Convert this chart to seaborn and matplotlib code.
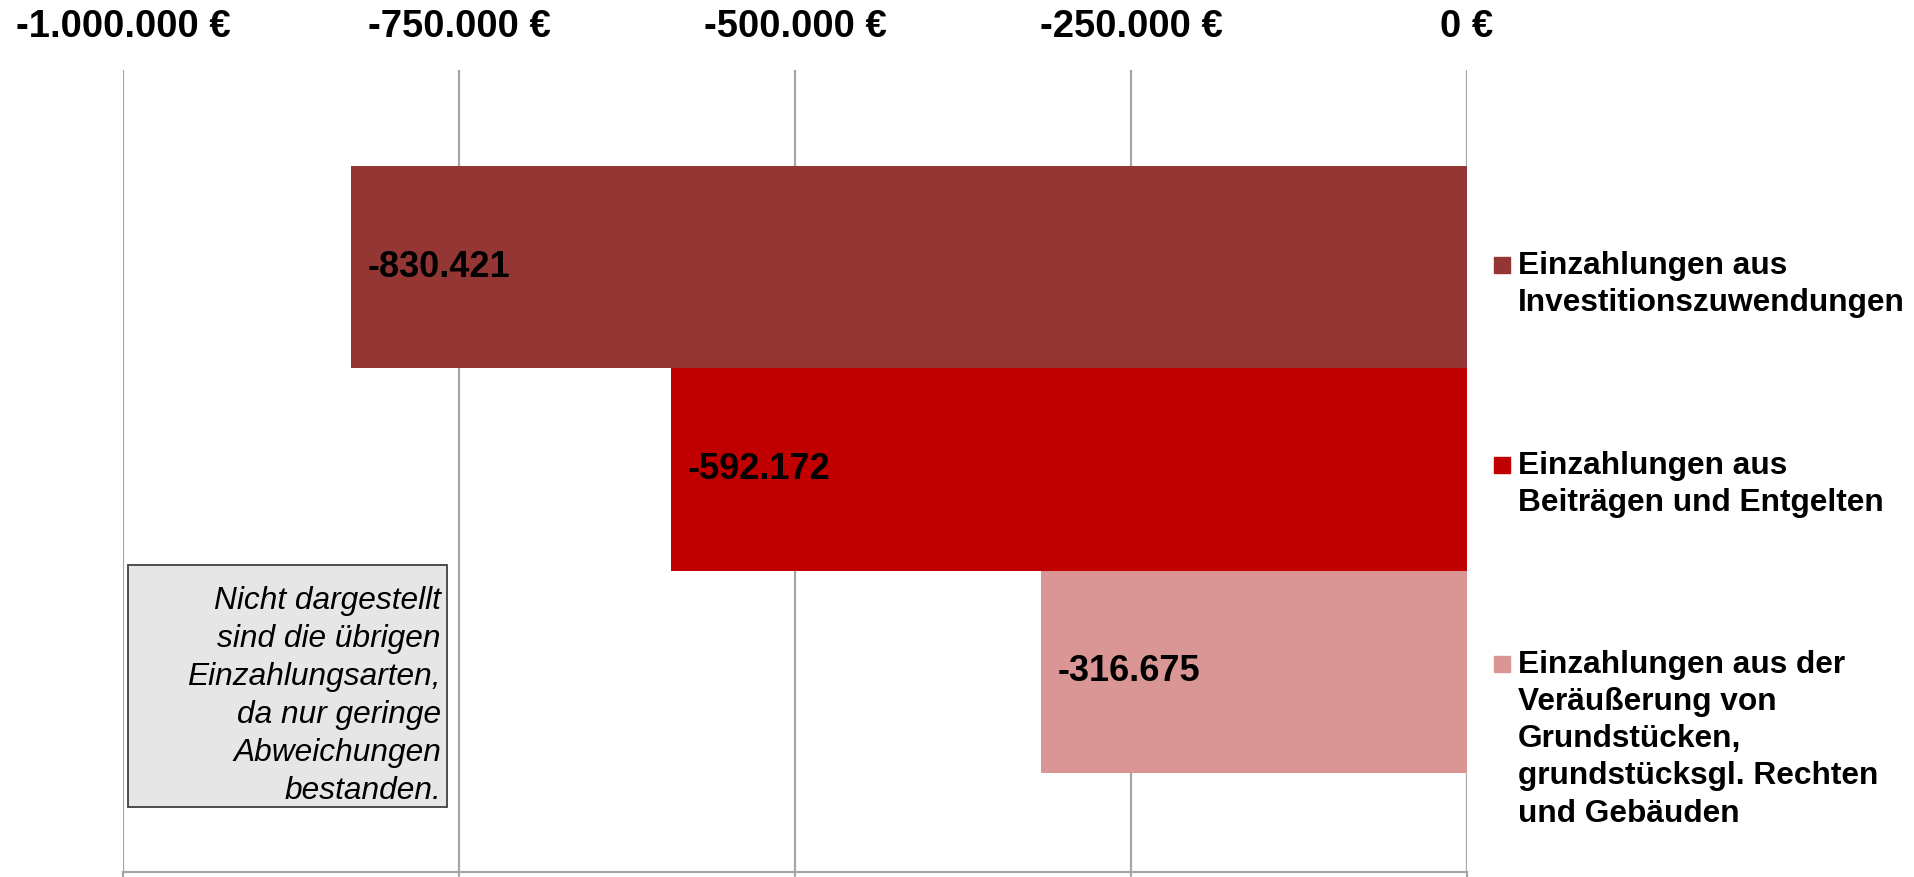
import numpy as np
import pandas as pd
import matplotlib
matplotlib.use('Agg')
import matplotlib.pyplot as plt
import seaborn as sns
from matplotlib.patches import Rectangle

# Daten
kategorien = ['Einzahlungen aus\nInvestitionszuwendungen',
              'Einzahlungen aus\nBeiträgen und Entgelten',
              'Einzahlungen aus der\nVeräußerung von\nGrundstücken,\ngrundstücksgl. Rechten\nund Gebäuden']
werte = [-830421, -592172, -316675]
farben = ['#943634', '#C00000', '#D99694']
x_ticks = [-1000000, -750000, -500000, -250000, 0]
tick_labels = ['-1.000.000 €', '-750.000 €', '-500.000 €', '-250.000 €', '0 €']
hinweis = 'Nicht dargestellt\nsind die übrigen\nEinzahlungsarten,\nda nur geringe\nAbweichungen\nbestanden.'

sns.set_theme(style='white')
plt.rcParams['font.family'] = ['Liberation Sans', 'DejaVu Sans']
plt.rcParams['text.color'] = 'black'
plt.rcParams['xtick.labelcolor'] = 'black'

W, H = 1915, 877
fig = plt.figure(figsize=(W / 100, H / 100), dpi=100)
ax = fig.add_axes([123 / W, 1 - 872 / H, 1344 / W, 802 / H])

df = pd.DataFrame({'kategorie': kategorien, 'wert': werte})
sns.barplot(data=df, x='wert', y='kategorie', hue='kategorie', palette=farben,
            width=1.0, linewidth=0, saturation=1, legend=False, ax=ax)

# Datenbeschriftungen
for i, v in enumerate(werte):
    ax.annotate(f'{v:,}'.replace(',', '.'), xy=(v, i), xytext=(12, 0),
                textcoords='offset points', ha='left', va='center',
                fontsize=26, fontweight='bold', color='black')

ax.set_xlim(-1000000, 0)
ax.set_ylim(2.99, -0.975)
ax.set_xticks(x_ticks)
ax.set_xticklabels(tick_labels, fontsize=27.5, fontweight='bold', color='black')
ax.set_yticks([])
ax.set_xlabel('')
ax.set_ylabel('')

ax.grid(axis='x', color='#A6A6A6', linewidth=1.6)
ax.set_axisbelow(True)
for s in ['left', 'right', 'top']:
    ax.spines[s].set_visible(False)
ax.spines['bottom'].set_color('#A6A6A6')
ax.spines['bottom'].set_linewidth(1.6)
ax.tick_params(axis='x', top=False, bottom=True, labeltop=True, labelbottom=False,
               length=6, width=1.6, color='#A6A6A6', direction='out', pad=12)

# Legende
legende_y = [265, 465, 664]
for i, txt in enumerate(kategorien):
    c = legende_y[i]
    fig.add_artist(Rectangle((1494 / W, 1 - (c + 8) / H), 16 / W, 16 / H,
                             transform=fig.transFigure, color=farben[i]))
    fig.text(1518 / W, 1 - (c - 14) / H, txt, ha='left', va='top',
             fontsize=22.8, fontweight='bold', linespacing=1.31, color='black')

# Hinweisbox
fig.add_artist(Rectangle((128 / W, 1 - 807 / H), 319 / W, 242 / H,
                         transform=fig.transFigure, facecolor='#E6E6E6',
                         edgecolor='#404040', linewidth=1.3))
fig.text(441 / W, 1 - 696 / H, hinweis, ha='right', va='center',
         fontsize=22.8, fontstyle='italic', linespacing=1.34, color='black')

fig.savefig('out.png', dpi=100)
